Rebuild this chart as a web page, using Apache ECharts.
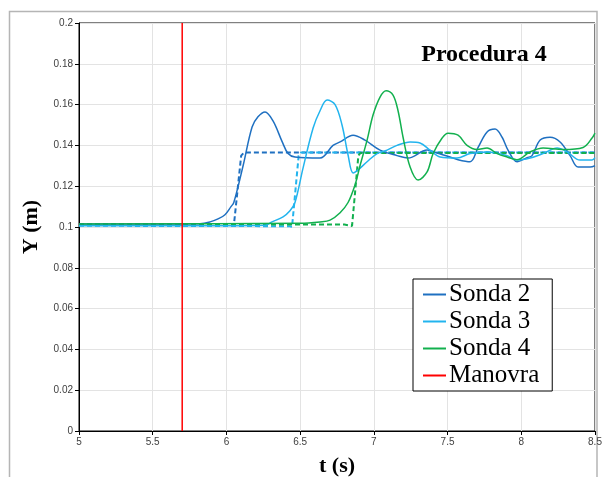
<!DOCTYPE html>
<html>
<head>
<meta charset="utf-8">
<script src="https://cdn.jsdelivr.net/npm/echarts@6/dist/echarts.min.js"></script>
<style>html,body{margin:0;padding:0;background:#fff;}#c{width:604px;height:477px;}</style>
</head>
<body>
<div id="c"></div>
<script>
// ---- data ----
var title = 'Procedura 4';
var xName = 't (s)';
var yName = 'Y (m)';
var names = ['Sonda 2', 'Sonda 3', 'Sonda 4', 'Manovra'];
var manovraT = 5.7;
var sonda2 = [[5.0,0.1015],[5.48,0.1015],[5.82,0.1016],[5.889,0.1025],[5.943,0.104],[5.99,0.106],[6.031,0.110],[6.05,0.112],
  [6.113,0.130],[6.174,0.149],[6.214,0.154],[6.262,0.1564],[6.316,0.152],[6.377,0.142],[6.418,0.136],[6.465,0.1343],
  [6.635,0.1338],[6.723,0.140],[6.771,0.1417],[6.859,0.145],[6.94,0.1426],[7.042,0.1377],[7.157,0.135],[7.232,0.1338],
  [7.361,0.1377],[7.429,0.1363],[7.517,0.1343],[7.571,0.133],[7.653,0.132],[7.707,0.139],[7.768,0.1466],[7.822,0.148],
  [7.87,0.144],[7.91,0.1377],[7.971,0.132],[8.039,0.134],[8.073,0.135],[8.128,0.1426],[8.195,0.144],[8.263,0.1417],
  [8.331,0.135],[8.385,0.1294],[8.467,0.1294],[8.5,0.130]];
var sonda3 = [[5.0,0.1006],[6.0,0.1006],[6.262,0.1008],[6.309,0.1025],[6.384,0.105],[6.431,0.108],[6.465,0.112],
  [6.52,0.129],[6.588,0.1485],[6.635,0.157],[6.683,0.1622],[6.737,0.160],[6.784,0.150],[6.825,0.1353],[6.859,0.1265],
  [6.893,0.128],[6.954,0.132],[7.022,0.136],[7.09,0.1377],[7.157,0.140],[7.246,0.1417],[7.313,0.1412],[7.381,0.1377],
  [7.449,0.1343],[7.564,0.1338],[7.653,0.136],[7.768,0.1368],[7.904,0.135],[7.971,0.1328],[8.06,0.1338],[8.148,0.136],
  [8.243,0.1387],[8.311,0.1368],[8.399,0.1328],[8.48,0.1328],[8.5,0.134]];
var sonda4 = [[5.0,0.1015],[6.5,0.1018],[6.635,0.1025],[6.703,0.1034],[6.771,0.107],[6.825,0.112],[6.872,0.1206],
  [6.906,0.130],[6.954,0.1426],[6.995,0.155],[7.042,0.1637],[7.083,0.1668],[7.13,0.1647],[7.164,0.157],[7.198,0.144],
  [7.246,0.1294],[7.30,0.123],[7.361,0.127],[7.402,0.136],[7.463,0.1436],[7.503,0.146],[7.571,0.145],[7.632,0.140],
  [7.70,0.138],[7.768,0.1387],[7.836,0.136],[7.904,0.1343],[7.971,0.133],[8.06,0.1368],[8.148,0.1387],[8.284,0.138],
  [8.419,0.139],[8.48,0.1436],[8.5,0.146]];
var step2 = [[5.0,0.1015],[6.035,0.1012],[6.05,0.1005],[6.10,0.135],[6.12,0.1365],[8.5,0.1365]];
var step3 = [[5.0,0.1006],[6.43,0.1004],[6.445,0.1000],[6.49,0.135],[6.505,0.1365],[8.5,0.1365]];
var step4 = [[5.0,0.1015],[6.80,0.1012],[6.852,0.1005],[6.895,0.135],[6.91,0.1363],[8.5,0.1363]];
var manovra = [[manovraT,0],[manovraT,0.2]];

var c2 = '#1f70c1', c3 = '#22b4ee', c4 = '#12b04e', cR = '#ff0000';

var chart = echarts.init(document.getElementById('c'), null, {renderer: 'canvas'});
var serif = '"Liberation Serif", "Times New Roman", serif';
var tickFont = {fontFamily: '"Liberation Sans", Arial, sans-serif', fontSize: 10, color: '#404040'};

function solid(name, data, color) {
  return {name: name, type: 'line', data: data, smooth: 0.35, symbol: 'none',
    lineStyle: {color: color, width: 1.5}, itemStyle: {color: color}, z: 3};
}
function dashed(name, data, color) {
  return {name: name, type: 'line', data: data, symbol: 'none',
    lineStyle: {color: color, width: 2, type: [5, 3]}, itemStyle: {color: color}, z: 2};
}

chart.setOption({
  animation: false,
  backgroundColor: '#fff',
  grid: {left: 79, right: 9, top: 23, bottom: 46, show: true, borderColor: '#000', borderWidth: 1,
    containLabel: false, outerBoundsMode: 'none'},
  title: {text: title, left: 479, top: 38, textAlign: 'center',
    textStyle: {fontFamily: serif, fontWeight: 'bold', fontSize: 24, color: '#000'}},
  legend: {
    data: names.map(function (n) { return {name: n, icon: 'rect'}; }),
    orient: 'vertical', left: 413, top: 279,
    itemWidth: 23, itemHeight: 2, itemGap: 2,
    padding: [3, 13, 3, 10],
    backgroundColor: '#fff', borderColor: '#000', borderWidth: 1,
    textStyle: {fontFamily: serif, fontSize: 25, color: '#000', lineHeight: 25, padding: [0, 0, 0, -2]}
  },
  xAxis: {type: 'value', min: 5, max: 8.5, interval: 0.5,
    name: xName, nameLocation: 'middle', nameGap: 24,
    nameTextStyle: {fontFamily: serif, fontWeight: 'bold', fontSize: 22, color: '#000'},
    axisLine: {show: true, lineStyle: {color: '#000', width: 1}},
    axisTick: {show: true, length: 4, lineStyle: {color: '#000'}},
    axisLabel: Object.assign({margin: 6}, tickFont),
    splitLine: {show: true, lineStyle: {color: '#e3e3e3', width: 1}}},
  yAxis: {type: 'value', min: 0, max: 0.2, interval: 0.02,
    name: yName, nameLocation: 'middle', nameGap: 35,
    nameTextStyle: {fontFamily: serif, fontWeight: 'bold', fontSize: 22, color: '#000'},
    axisLine: {show: true, lineStyle: {color: '#000', width: 1}},
    axisTick: {show: true, length: 4, lineStyle: {color: '#000'}},
    axisLabel: Object.assign({margin: 6}, tickFont),
    splitLine: {show: true, lineStyle: {color: '#e3e3e3', width: 1}}},
  graphic: [{type: 'rect', shape: {x: 9.5, y: 11.5, width: 587.5, height: 480}, silent: true, z: -10,
    style: {fill: 'none', stroke: '#b5b5b5', lineWidth: 1.5}}],
  series: [
    dashed('Sonda 2 step', step2, c2),
    dashed('Sonda 3 step', step3, c3),
    dashed('Sonda 4 step', step4, c4),
    solid(names[0], sonda2, c2),
    solid(names[1], sonda3, c3),
    solid(names[2], sonda4, c4),
    {name: names[3], type: 'line', data: manovra, symbol: 'none',
      lineStyle: {color: cR, width: 1.5}, itemStyle: {color: cR}, z: 4}
  ]
});
</script>
</body>
</html>
